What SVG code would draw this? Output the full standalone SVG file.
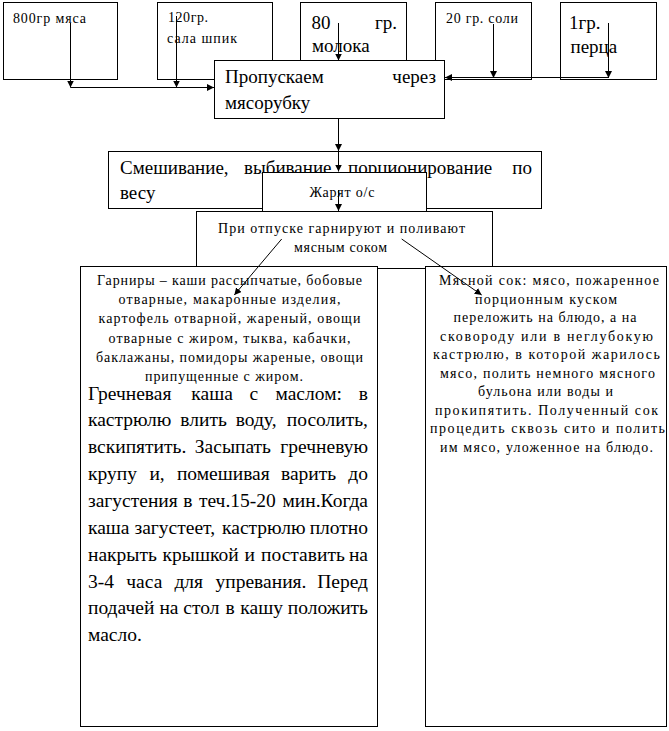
<svg xmlns="http://www.w3.org/2000/svg" width="669" height="731" viewBox="0 0 669 731" font-family="'Liberation Serif', 'Times New Roman', serif">
<style>
rect{fill:#fff;stroke:#000;stroke-width:1}
text{font-family:'Liberation Serif','Times New Roman',serif;fill:#000}
.s{font-size:14px}
.b{font-size:19px}
.g{font-size:19.5px}
.c{text-anchor:middle}
.e{text-anchor:end}
#connectors line{stroke:#000;stroke-width:1;fill:none}
.a{marker-end:url(#ah)}
</style>
<defs>
<marker id="ah" markerWidth="7" markerHeight="7" refX="7" refY="3.5" orient="auto" markerUnits="userSpaceOnUse"><path d="M0,0 L7,3.5 L0,7 z" fill="#000"/></marker>
</defs>
<rect x="0" y="0" width="669" height="731" style="stroke:none"/>
<g id="n800">
<rect x="3.5" y="2.5" width="114" height="77"/>
<text class="s" x="13" y="23" textLength="73" lengthAdjust="spacing">800гр мяса</text>
</g>
<g id="n120">
<rect x="157.5" y="2.5" width="115" height="77"/>
<text class="s" x="168" y="22" textLength="40" lengthAdjust="spacing">120гр.</text>
<text class="s" x="167" y="43" textLength="70" lengthAdjust="spacing">сала шпик</text>
</g>
<g id="n80">
<rect x="300.5" y="2.5" width="106" height="77"/>
<text class="b" x="311.5" y="28.5">80</text>
<text class="b e" x="397" y="28.5">гр.</text>
<text class="b" x="312" y="52">молока</text>
</g>
<g id="n20">
<rect x="435.5" y="2.5" width="96" height="77"/>
<text class="s" x="446" y="23" textLength="72" lengthAdjust="spacing">20 гр. соли</text>
</g>
<g id="n1">
<rect x="560.5" y="2.5" width="96" height="77"/>
<text class="b" x="569" y="28.5">1гр.</text>
<text class="b" x="570.5" y="53">перца</text>
</g>
<g id="mincer">
<rect x="214.5" y="60.5" width="230" height="58"/>
<text class="b" x="225" y="83">Пропускаем</text>
<text class="b e" x="436" y="83">через</text>
<text class="b" x="225" y="108.5">мясорубку</text>
</g>
<g id="mix">
<rect x="108.5" y="151.5" width="433" height="57"/>
<text class="b" y="173.5"><tspan x="120">Смешивание,</tspan><tspan x="244">выбивание,</tspan><tspan x="348">порционирование</tspan><tspan x="532" text-anchor="end">по</tspan></text>
<text class="b" x="120" y="199">весу</text>
</g>
<g id="fry">
<rect x="262.5" y="172.5" width="164" height="39"/>
<text class="s c" x="342" y="197" textLength="65" lengthAdjust="spacing">Жарят о/с</text>
</g>
<g id="serve">
<rect x="196.5" y="211.5" width="296" height="57"/>
<text class="s c" x="341.5" y="232.5" textLength="247" lengthAdjust="spacing">При отпуске гарнируют и поливают</text>
<text class="s c" x="340.5" y="251.5" textLength="93" lengthAdjust="spacing">мясным соком</text>
</g>
<g id="garnish">
<rect x="80.5" y="266.5" width="297" height="460"/>
<text class="s c" x="229.5" y="285" textLength="265" lengthAdjust="spacing">Гарниры – каши рассыпчатые, бобовые</text>
<text class="s c" x="229.5" y="304" textLength="222" lengthAdjust="spacing">отварные, макаронные изделия,</text>
<text class="s c" x="229.5" y="323" textLength="262" lengthAdjust="spacing">картофель отварной, жареный, овощи</text>
<text class="s c" x="229.5" y="342.5" textLength="242" lengthAdjust="spacing">отварные с жиром, тыква, кабачки,</text>
<text class="s c" x="229.5" y="361.5" textLength="267" lengthAdjust="spacing">баклажаны, помидоры жареные, овощи</text>
<text class="s c" x="224" y="380.5" textLength="158" lengthAdjust="spacing">припущенные с жиром.</text>
<text class="g" y="399.5"><tspan x="88">Гречневая</tspan><tspan x="191.3">каша</tspan><tspan x="249.4">с</tspan><tspan x="275.5">маслом:</tspan><tspan x="368" text-anchor="end">в</tspan></text>
<text class="g" y="426.4"><tspan x="88">кастрюлю</tspan><tspan x="180.3">влить</tspan><tspan x="235.7">воду,</tspan><tspan x="368" text-anchor="end">посолить,</tspan></text>
<text class="g" y="453.2"><tspan x="88">вскипятить.</tspan><tspan x="194.8">Засыпать</tspan><tspan x="368" text-anchor="end">гречневую</tspan></text>
<text class="g" y="480.1"><tspan x="88">крупу</tspan><tspan x="149.4">и,</tspan><tspan x="176.9">помешивая</tspan><tspan x="281">варить</tspan><tspan x="368" text-anchor="end">до</tspan></text>
<text class="g" y="506.9"><tspan x="88">загустения</tspan><tspan x="183.3">в</tspan><tspan x="198.9">теч.15-20</tspan><tspan x="368" text-anchor="end">мин.Когда</tspan></text>
<text class="g" y="533.8"><tspan x="88">каша</tspan><tspan x="134.5">загустеет,</tspan><tspan x="222.1">кастрюлю</tspan><tspan x="368" text-anchor="end">плотно</tspan></text>
<text class="g" y="560.6"><tspan x="88">накрыть</tspan><tspan x="162.6">крышкой</tspan><tspan x="244.4">и</tspan><tspan x="261">поставить</tspan><tspan x="368" text-anchor="end">на</tspan></text>
<text class="g" y="587.5"><tspan x="88">3-4</tspan><tspan x="126.3">часа</tspan><tspan x="174.4">для</tspan><tspan x="215.5">упревания.</tspan><tspan x="368" text-anchor="end">Перед</tspan></text>
<text class="g" y="614.3"><tspan x="88">подачей</tspan><tspan x="159.4">на</tspan><tspan x="183.3">стол</tspan><tspan x="225.6">в</tspan><tspan x="240.3">кашу</tspan><tspan x="368" text-anchor="end">положить</tspan></text>
<text class="g" x="88" y="641.2">масло.</text>
</g>
<g id="juice">
<rect x="425.5" y="266.5" width="241" height="460"/>
<text class="s c" x="549" y="285" textLength="220" lengthAdjust="spacing">Мясной сок: мясо, пожаренное</text>
<text class="s c" x="546" y="303.5" textLength="142" lengthAdjust="spacing">порционным куском</text>
<text class="s c" x="545" y="322" textLength="183" lengthAdjust="spacing">переложить на блюдо, а на</text>
<text class="s c" x="546.5" y="340.5" textLength="213" lengthAdjust="spacing">сковороду или в неглубокую</text>
<text class="s c" x="546.5" y="359" textLength="227" lengthAdjust="spacing">кастрюлю, в которой жарилось</text>
<text class="s c" x="547.5" y="377.5" textLength="215" lengthAdjust="spacing">мясо, полить немного мясного</text>
<text class="s c" x="545.5" y="396" textLength="135" lengthAdjust="spacing">бульона или воды и</text>
<text class="s c" x="546.5" y="414.5" textLength="223" lengthAdjust="spacing">прокипятить. Полученный сок</text>
<text class="s c" x="547.5" y="433" textLength="235" lengthAdjust="spacing">процедить сквозь сито и полить</text>
<text class="s c" x="546.5" y="451.5" textLength="213" lengthAdjust="spacing">им мясо, уложенное на блюдо.</text>
</g>
<g id="connectors">
<line class="a" x1="70.5" y1="23" x2="70.5" y2="87.5"/>
<line class="a" x1="176.5" y1="16" x2="176.5" y2="87.5"/>
<line class="a" x1="70.5" y1="87.5" x2="214" y2="87.5"/>
<line class="a" x1="338.5" y1="23" x2="338.5" y2="60.5"/>
<line class="a" x1="493.5" y1="24" x2="493.5" y2="78"/>
<line class="a" x1="608.5" y1="23" x2="608.5" y2="78"/>
<line class="a" x1="608.5" y1="77.5" x2="445" y2="77.5"/>
<line class="a" x1="338.5" y1="118.5" x2="338.5" y2="151"/>
<line class="a" x1="338.5" y1="152" x2="338.5" y2="171.5"/>
<line class="a" x1="338.5" y1="190" x2="338.5" y2="211"/>
<line class="a" x1="281.7" y1="239" x2="234.3" y2="295"/>
<line class="a" x1="401.7" y1="239" x2="481.7" y2="295"/>
</g>
</svg>
